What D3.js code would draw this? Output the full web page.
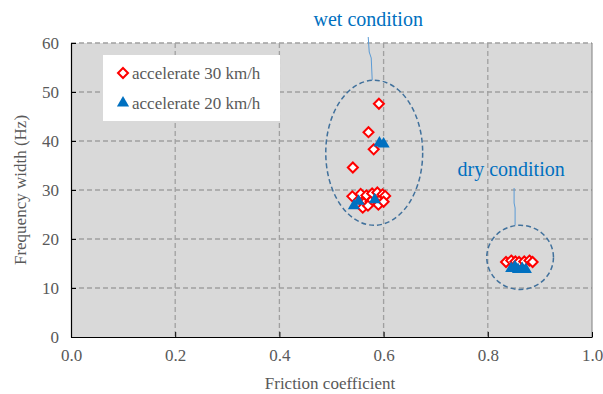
<!DOCTYPE html>
<meta charset="utf-8">
<body>
<svg width="603" height="394"></svg>
<script src="https://d3js.org/d3.v7.min.js"></script>
<script>
// friction coefficient / frequency width readings
var wet30 = [[0.591,47.6],[0.571,41.8],[0.581,38.3],[0.541,34.6],[0.540,28.7],[0.556,29.2],
             [0.567,28.9],[0.578,29.3],[0.588,29.5],[0.598,29.1],[0.603,28.8],[0.562,27.3],
             [0.575,27.6],[0.590,27.0],[0.600,27.6],[0.560,26.4],[0.570,26.8]];
var dry30 = [[0.835,15.3],[0.845,15.6],[0.853,15.4],[0.860,15.3],[0.870,15.4],[0.880,15.6],[0.886,15.3]];
var wet20 = [[0.543,27.0],[0.552,27.9],[0.583,28.2],[0.592,39.8],[0.600,39.6]];
var dry20 = [[0.845,14.2],[0.852,14.6],[0.858,14.0],[0.866,14.2],[0.873,14.0]];
var xTicks = [0, 0.2, 0.4, 0.6, 0.8, 1.0];
var yTicks = [0, 10, 20, 30, 40, 50, 60];
// groups circled: center x, center y, radius x, radius y (data units)
var groups = [
  {name: "wet condition", cx: 0.582, cy: 37.6, rx: 0.093, ry: 14.8},
  {name: "dry condition", cx: 0.862, cy: 16.25, rx: 0.064, ry: 6.55}
];

var serif = '"Liberation Serif", monospace';

d3.select("body").style("margin", "0px");

var svg = d3.select("svg").style("display", "block"),
    margin = {top: 43, right: 11, bottom: 57, left: 71},
    width = 603 - margin.left - margin.right,
    height = 394 - margin.top - margin.bottom,
    g = svg.append("g").attr("transform", "translate(" + margin.left + "," + margin.top + ")");

var x = d3.scaleLinear().domain([0, 1]).range([0, width]);
var y = d3.scaleLinear().domain([0, 60]).range([height, 0]);

g.append("rect").attr("width", width).attr("height", height).attr("fill", "#d9d9d9");

// dashed grid
g.selectAll(".hgrid").data(yTicks.slice(1)).enter().append("line")
    .attr("x1", 0).attr("x2", width)
    .attr("y1", d => y(d)).attr("y2", d => y(d))
    .attr("stroke", "#a0a0a0").attr("stroke-width", 1.3).attr("stroke-dasharray", "5,3");
g.selectAll(".vgrid").data(xTicks.slice(1, -1)).enter().append("line")
    .attr("y1", 0).attr("y2", height)
    .attr("x1", d => x(d)).attr("x2", d => x(d))
    .attr("stroke", "#a0a0a0").attr("stroke-width", 1.3).attr("stroke-dasharray", "5,3");
g.append("line").attr("x1", width).attr("x2", width).attr("y1", 0).attr("y2", height)
    .attr("stroke", "#7f7f7f").attr("stroke-width", 1);

// axes
var xAxis = g.append("g").attr("transform", "translate(0," + height + ")")
    .call(d3.axisBottom(x).tickValues(xTicks).tickFormat(d3.format(".1f")).tickSizeInner(-5).tickSizeOuter(0).tickPadding(12));
var yAxis = g.append("g")
    .call(d3.axisLeft(y).tickValues(yTicks).tickSizeInner(-5).tickSizeOuter(0).tickPadding(12));
[xAxis, yAxis].forEach(function(a) {
  a.attr("font-family", null).attr("font-size", null);
  a.select(".domain").attr("stroke", "#000").attr("stroke-width", 1.2);
  a.selectAll(".tick line").attr("stroke", "#000");
  a.selectAll(".tick text").attr("fill", "#595959")
    .style("font-family", serif).attr("font-size", 17);
});

svg.append("text").attr("x", 330).attr("y", 389).attr("text-anchor", "middle")
    .style("font-family", serif).attr("font-size", 17)
    .attr("fill", "#595959").text("Friction coefficient");
svg.append("text").attr("transform", "translate(26,190) rotate(-90)").attr("text-anchor", "middle")
    .style("font-family", serif).attr("font-size", 17)
    .attr("fill", "#595959").text("Frequency width (Hz)");

// ellipses and callouts
g.selectAll(".grp").data(groups).enter().append("ellipse")
    .attr("cx", d => x(d.cx)).attr("cy", d => y(d.cy))
    .attr("rx", d => x(d.rx) - x(0)).attr("ry", d => y(0) - y(d.ry))
    .attr("fill", "none").attr("stroke", "#41719c").attr("stroke-width", 1.5).attr("stroke-dasharray", "5,3");

var diamond = d3.symbol().type(d3.symbolDiamond2).size(64);
var tri = d3.symbol().type(d3.symbolTriangle).size(64);

g.selectAll(".d30").data(wet30.concat(dry30)).enter().append("path")
    .attr("d", diamond)
    .attr("transform", d => "translate(" + x(d[0]) + "," + y(d[1]) + ")")
    .attr("fill", "#fff").attr("stroke", "#ff0000").attr("stroke-width", 2);
g.selectAll(".d20").data(wet20.concat(dry20)).enter().append("path")
    .attr("d", tri)
    .attr("transform", d => "translate(" + x(d[0]) + "," + (y(d[1]) + 1) + ")")
    .attr("fill", "#0070c0");

// leader lines
var wetTop = y(groups[0].cy + groups[0].ry) + margin.top;
var dryTop = y(groups[1].cy + groups[1].ry) + margin.top;
var wetX = x(groups[0].cx) + margin.left, dryX = x(groups[1].cx) + margin.left;
svg.append("path")
    .attr("d", "M" + (wetX - 6) + ",37 L" + (wetX - 5) + ",52 L" + (wetX - 3) + ",58 L" + (wetX - 2) + "," + wetTop)
    .attr("fill", "none").attr("stroke", "#5b9bd5").attr("stroke-width", 1);
svg.append("path")
    .attr("d", "M" + (dryX - 6) + ",188 L" + (dryX - 6) + ",203 L" + (dryX - 5) + ",208 L" + (dryX - 5) + "," + dryTop)
    .attr("fill", "none").attr("stroke", "#5b9bd5").attr("stroke-width", 1);
svg.append("text").attr("x", wetX - 6).attr("y", 26).attr("text-anchor", "middle")
    .style("font-family", serif).attr("font-size", 20)
    .attr("fill", "#0070c0").text(groups[0].name);
svg.append("text").attr("x", dryX - 9).attr("y", 176).attr("text-anchor", "middle")
    .style("font-family", serif).attr("font-size", 20)
    .attr("fill", "#0070c0").text(groups[1].name);

// legend
var leg = svg.append("g").attr("transform", "translate(103,55)");
leg.append("rect").attr("width", 177).attr("height", 66).attr("fill", "#fff");
var items = [{label: "accelerate 30 km/h", sym: "d"}, {label: "accelerate 20 km/h", sym: "t"}];
var li = leg.selectAll(".li").data(items).enter().append("g")
    .attr("transform", (d, i) => "translate(20," + (18 + i * 30) + ")");
li.append("path")
    .attr("d", d => d.sym == "d" ? diamond() : tri())
    .attr("fill", d => d.sym == "d" ? "#fff" : "#0070c0")
    .attr("stroke", d => d.sym == "d" ? "#ff0000" : "none").attr("stroke-width", 2);
li.append("text").attr("x", 9).attr("y", 6).attr("fill", "#595959")
    .style("font-family", serif).attr("font-size", 17).text(d => d.label);
</script>
</body>
